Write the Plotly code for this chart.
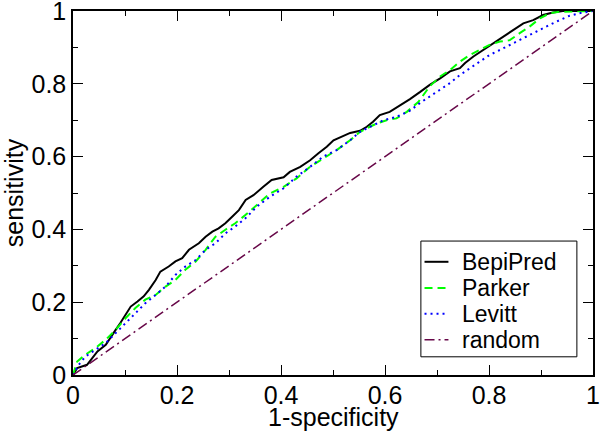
import plotly.graph_objects as go

# ---- data ----
bepipred_x = [0, 0.008, 0.027, 0.037, 0.047, 0.063, 0.072, 0.082, 0.091, 0.101, 0.111, 0.124, 0.136, 0.146,
              0.159, 0.168, 0.184, 0.197, 0.210, 0.223, 0.242, 0.255, 0.268, 0.280, 0.293, 0.306, 0.319,
              0.332, 0.347, 0.366, 0.382, 0.405, 0.417, 0.437, 0.456, 0.472, 0.488, 0.501, 0.520, 0.533,
              0.552, 0.565, 0.577, 0.590, 0.609, 0.629, 0.648, 0.667, 0.686, 0.706, 0.725, 0.744, 0.754,
              0.770, 0.789, 0.808, 0.827, 0.846, 0.866, 0.885, 0.904, 0.923, 0.942, 1.0]
bepipred_y = [0, 0.019, 0.028, 0.047, 0.065, 0.083, 0.101, 0.124, 0.143, 0.165, 0.188, 0.202, 0.216, 0.234,
              0.261, 0.284, 0.298, 0.312, 0.321, 0.344, 0.362, 0.380, 0.394, 0.403, 0.417, 0.435, 0.453,
              0.481, 0.494, 0.517, 0.536, 0.543, 0.558, 0.572, 0.590, 0.609, 0.627, 0.645, 0.656, 0.665,
              0.671, 0.682, 0.696, 0.714, 0.723, 0.740, 0.758, 0.777, 0.797, 0.815, 0.834, 0.843, 0.857,
              0.875, 0.893, 0.911, 0.930, 0.948, 0.966, 0.975, 0.989, 0.996, 1.0, 1.0]

parker_x = [0, 0.008, 0.024, 0.043, 0.063, 0.082, 0.101, 0.120, 0.139, 0.159, 0.178, 0.197, 0.216, 0.236,
            0.255, 0.274, 0.293, 0.312, 0.332, 0.353, 0.379, 0.405, 0.430, 0.456, 0.481, 0.507, 0.533,
            0.552, 0.571, 0.584, 0.603, 0.622, 0.642, 0.664, 0.686, 0.706, 0.725, 0.744, 0.763, 0.782,
            0.801, 0.821, 0.840, 0.859, 0.878, 0.898, 0.917, 0.936, 1.0]
parker_y = [0, 0.037, 0.056, 0.074, 0.097, 0.124, 0.156, 0.184, 0.207, 0.220, 0.243, 0.261, 0.289, 0.312,
            0.344, 0.380, 0.399, 0.417, 0.440, 0.467, 0.499, 0.517, 0.540, 0.572, 0.595, 0.618, 0.645,
            0.668, 0.682, 0.691, 0.700, 0.705, 0.723, 0.750, 0.793, 0.820, 0.838, 0.861, 0.879, 0.893,
            0.907, 0.916, 0.920, 0.939, 0.957, 0.980, 0.994, 0.998, 1.0]

levitt_x = [0, 0.011, 0.024, 0.043, 0.063, 0.082, 0.101, 0.120, 0.139, 0.159, 0.178, 0.197, 0.216, 0.236,
            0.255, 0.274, 0.293, 0.312, 0.332, 0.353, 0.379, 0.405, 0.430, 0.456, 0.481, 0.507, 0.533,
            0.552, 0.571, 0.597, 0.622, 0.648, 0.667, 0.686, 0.706, 0.725, 0.744, 0.763, 0.782, 0.801,
            0.821, 0.840, 0.859, 0.878, 0.898, 0.917, 0.936, 0.955, 0.974, 1.0]
levitt_y = [0, 0.028, 0.051, 0.069, 0.088, 0.115, 0.143, 0.170, 0.197, 0.220, 0.243, 0.275, 0.298, 0.316,
            0.344, 0.362, 0.389, 0.408, 0.431, 0.462, 0.490, 0.513, 0.545, 0.572, 0.600, 0.618, 0.645,
            0.668, 0.682, 0.700, 0.709, 0.726, 0.747, 0.765, 0.783, 0.802, 0.824, 0.843, 0.861, 0.879,
            0.893, 0.907, 0.920, 0.934, 0.948, 0.962, 0.975, 0.987, 0.994, 1.0]

random_x = [0, 1]
random_y = [0, 1]

names = ["BepiPred", "Parker", "Levitt", "random"]
colors = ["#000000", "#00ff00", "#0000ff", "#670748"]
dashes = ["solid", "8px,5px", "2px,4px", "10px,4px,2px,4px"]
widths = [2, 2, 2, 1.5]
series = [(bepipred_x, bepipred_y), (parker_x, parker_y), (levitt_x, levitt_y), (random_x, random_y)]

x_title = "1-specificity"
y_title = "sensitivity"

FONT = "Liberation Sans, Arial, sans-serif"

fig = go.Figure()
for (xs, ys), n, c, d, w in zip(series, names, colors, dashes, widths):
    fig.add_trace(go.Scatter(x=xs, y=ys, mode="lines", name=n,
                             line=dict(color=c, dash=d, width=w), showlegend=False))

axis_common = dict(
    range=[0, 1], dtick=0.2, tick0=0, automargin=False, ticklabeloverflow="allow",
    showline=True, linecolor="#000000", linewidth=1.5, mirror="allticks",
    ticks="inside", ticklen=10, tickwidth=1, tickcolor="#000000",
    minor=dict(ticks="inside", ticklen=5, dtick=0.1, tickwidth=1, tickcolor="#000000"),
    showgrid=False, zeroline=False,
    tickfont=dict(family=FONT, size=25, color="#000000"),
)

fig.update_layout(
    width=600, height=432, autosize=False,
    margin=dict(l=73, r=7, t=11, b=57, autoexpand=False),
    paper_bgcolor="white", plot_bgcolor="white",
    xaxis=dict(**axis_common, ticklabelstandoff=-3),
    yaxis=dict(**axis_common, title=dict(text=y_title,
                                          font=dict(family=FONT, size=25, color="#000000"))),
    showlegend=False,
)

# x-axis title placed below the tick labels
fig.add_annotation(xref="paper", yref="paper", x=0.5, y=-0.115, text=x_title, showarrow=False,
                   xanchor="center", yanchor="middle",
                   font=dict(family=FONT, size=25, color="#000000"))

# ---- manual legend box (paper coordinates) ----
box = dict(x0=0.669, x1=0.969, y0=0.050, y1=0.368)
fig.add_shape(type="rect", xref="paper", yref="paper", line=dict(color="#000000", width=1),
              fillcolor="white", layer="above", **box)
item_y = [0.311, 0.239, 0.168, 0.097]
for n, c, d, w, yy in zip(names, colors, dashes, widths, item_y):
    fig.add_shape(type="line", xref="paper", yref="paper", x0=0.676, x1=0.722, y0=yy, y1=yy,
                  line=dict(color=c, dash=d, width=w), layer="above")
    fig.add_annotation(xref="paper", yref="paper", x=0.744, y=yy, text=n, showarrow=False,
                       xanchor="left", yanchor="middle",
                       font=dict(family=FONT, size=23, color="#000000"))

fig.write_html("out.html", config={"responsive": False, "displayModeBar": False},
               post_script="document.body.style.margin='0';document.body.style.overflow='hidden';")
